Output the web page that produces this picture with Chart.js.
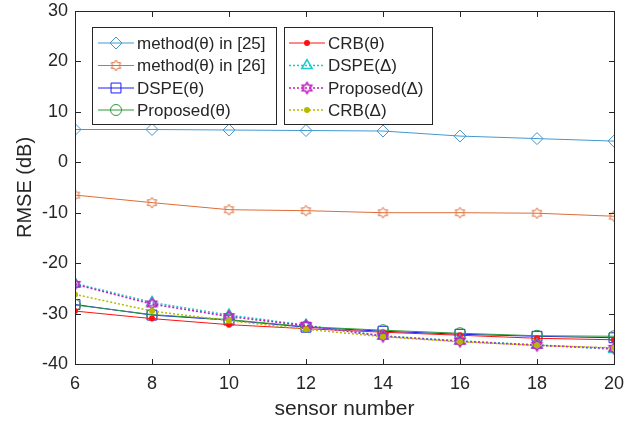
<!DOCTYPE html>
<html><head><meta charset="utf-8">
<script src="https://cdn.jsdelivr.net/npm/chart.js@4.4.1/dist/chart.umd.min.js"></script>
<style>html,body{margin:0;padding:0;background:#fff}#wrap{position:relative;width:639px;height:423px}</style>
</head><body><div id="wrap"><canvas id="c" width="639" height="423"></canvas></div>
<script>
// ---- data ----
const sensorNumbers = [6, 8, 10, 12, 14, 16, 18, 20];
const method25      = [6.5, 6.5, 6.4, 6.3, 6.2, 5.2, 4.7, 4.2];
const method26      = [-6.5, -8.0, -9.4, -9.6, -10.0, -10.0, -10.1, -10.7];
const dspeTheta     = [-28.2, -30.3, -31.3, -32.7, -33.5, -34.1, -34.5, -34.8];
const proposedTheta = [-28.3, -30.2, -31.2, -32.6, -33.3, -33.9, -34.4, -34.5];
const crbTheta      = [-29.5, -31.0, -32.2, -33.0, -33.7, -34.3, -34.9, -35.2];
const dspeDelta     = [-24.0, -27.8, -30.3, -32.3, -34.4, -35.4, -36.2, -37.1];
const proposedDelta = [-24.2, -28.1, -30.6, -32.4, -34.5, -35.5, -36.3, -36.9];
const crbDelta      = [-26.2, -29.5, -31.4, -33.1, -34.6, -35.6, -36.3, -36.8];
const yTicks = [-40, -30, -20, -10, 0, 10, 20, 30];
const xTicks = [6, 8, 10, 12, 14, 16, 18, 20];
const seriesNames = ['method(θ) in [25]', 'method(θ) in [26]', 'DSPE(θ)', 'Proposed(θ)',
                     'CRB(θ)', 'DSPE(Δ)', 'Proposed(Δ)', 'CRB(Δ)'];

const FONT = "'Liberation Sans', Arial, Helvetica, sans-serif";
const AX = '#262626';

function makeHexagram(color, R, lw) {
  const s = Math.ceil(2 * R + 4);
  const cv = document.createElement('canvas');
  cv.width = s; cv.height = s;
  const g = cv.getContext('2d');
  const c = s / 2, r = R / Math.sqrt(3);
  g.beginPath();
  for (let i = 0; i < 12; i++) {
    const a = -Math.PI / 2 + i * Math.PI / 6;
    const rr = i % 2 === 0 ? R : r;
    const px = c + rr * Math.cos(a), py = c + rr * Math.sin(a);
    if (i === 0) g.moveTo(px, py); else g.lineTo(px, py);
  }
  g.closePath();
  g.strokeStyle = color; g.lineWidth = lw; g.stroke();
  return cv;
}

const colors = ['#4398d0', '#de6c38', '#1a1aff', '#2e9a3a', '#ff1010', '#1ec8c8', '#c020c0', '#b8b800'];
const hexOrange = makeHexagram(colors[1], 5.5, 1);
const hexMag = makeHexagram(colors[6], 5.5, 1.6);

const pts = v => sensorNumbers.map((x, i) => ({x: x, y: v[i]}));
const specs = [
  {data: method25, style: 'rectRot', r: 6, fill: false, dash: [], lw: 1},
  {data: method26, style: hexOrange, r: 6, fill: false, dash: [], lw: 1},
  {data: dspeTheta, style: 'rect', r: 7, fill: false, dash: [], lw: 1},
  {data: proposedTheta, style: 'circle', r: 5.5, fill: false, dash: [], lw: 1},
  {data: crbTheta, style: 'circle', r: 3, fill: true, dash: [], lw: 1},
  {data: dspeDelta, style: 'triangle', r: 6, fill: false, dash: [2, 2], lw: 1.5},
  {data: proposedDelta, style: hexMag, r: 6, fill: false, dash: [2, 2], lw: 1.6},
  {data: crbDelta, style: 'circle', r: 3, fill: true, dash: [2, 2], lw: 1.5}
];

const datasets = specs.map((s, i) => ({
  label: seriesNames[i],
  data: pts(s.data),
  borderColor: colors[i],
  backgroundColor: s.fill ? colors[i] : 'rgba(0,0,0,0)',
  borderWidth: s.lw,
  borderDash: s.dash,
  pointStyle: s.style,
  pointRadius: s.r,
  pointBorderWidth: s.fill ? 0 : (i === 5 ? 1.5 : 1),
  pointBackgroundColor: s.fill ? colors[i] : 'rgba(0,0,0,0)',
  pointBorderColor: colors[i],
  tension: 0,
  order: 10 - i
}));

const boxPlugin = {
  id: 'box',
  afterDatasetsDraw(chart) {
    const {ctx, chartArea: a, scales} = chart;
    ctx.save();
    ctx.strokeStyle = AX; ctx.lineWidth = 1;
    const L = Math.round(a.left) + 0.5, R = Math.round(a.right) + 0.5;
    const T = Math.round(a.top) + 0.5, B = Math.round(a.bottom) + 0.5;
    ctx.strokeRect(L, T, R - L, B - T);
    const tl = 5.5;
    ctx.beginPath();
    scales.x.ticks.forEach(t => {
      const px = Math.round(scales.x.getPixelForValue(t.value)) + 0.5;
      ctx.moveTo(px, B); ctx.lineTo(px, B - tl);
      ctx.moveTo(px, T); ctx.lineTo(px, T + tl);
    });
    scales.y.ticks.forEach(t => {
      const py = Math.round(scales.y.getPixelForValue(t.value)) + 0.5;
      ctx.moveTo(L, py); ctx.lineTo(L + tl, py);
      ctx.moveTo(R, py); ctx.lineTo(R - tl, py);
    });
    ctx.stroke();
    ctx.restore();
  }
};

const legendPlugin = {
  id: 'mlegend',
  afterDraw(chart) {
    const {ctx} = chart;
    const boxes = [
      {x: 92, y: 27, w: 184, h: 97, items: [0, 1, 2, 3], lx0: 98, lx1: 134, tx: 137},
      {x: 284, y: 27, w: 148, h: 97, items: [4, 5, 6, 7], lx0: 289, lx1: 325, tx: 328}
    ];
    const rowY = [43, 65.5, 88, 110];
    ctx.save();
    boxes.forEach(b => {
      ctx.fillStyle = '#fff';
      ctx.fillRect(b.x, b.y, b.w, b.h);
      ctx.strokeStyle = AX; ctx.lineWidth = 1;
      ctx.strokeRect(b.x + 0.5, b.y + 0.5, b.w, b.h);
      b.items.forEach((di, k) => {
        const ds = chart.data.datasets[di];
        const y = rowY[k];
        ctx.save();
        ctx.strokeStyle = ds.borderColor;
        ctx.lineWidth = ds.borderWidth;
        ctx.setLineDash(ds.borderDash || []);
        ctx.beginPath(); ctx.moveTo(b.lx0, y); ctx.lineTo(b.lx1, y); ctx.stroke();
        ctx.setLineDash([]);
        ctx.fillStyle = ds.pointBackgroundColor;
        ctx.strokeStyle = ds.pointBorderColor;
        ctx.lineWidth = ds.pointBorderWidth;
        Chart.helpers.drawPoint(ctx, {pointStyle: ds.pointStyle, radius: ds.pointRadius,
          rotation: 0, borderWidth: ds.pointBorderWidth}, (b.lx0 + b.lx1) / 2, y);
        ctx.restore();
        ctx.fillStyle = AX;
        ctx.font = '17px ' + FONT;
        ctx.textBaseline = 'middle';
        ctx.textAlign = 'left';
        ctx.fillText(ds.label, b.tx, y + 1);
      });
    });
    ctx.restore();
  }
};

new Chart(document.getElementById('c'), {
  type: 'line',
  data: {datasets: datasets},
  options: {
    responsive: false,
    animation: false,
    devicePixelRatio: 1,
    layout: {padding: {top: 11, right: 25, left: 0, bottom: 0}},
    plugins: {legend: {display: false}, tooltip: {enabled: false}},
    scales: {
      x: {
        type: 'linear', min: 6, max: 20,
        afterBuildTicks: s => { s.ticks = xTicks.map(v => ({value: v})); },
        afterFit: s => { s.height = 59; s.paddingLeft = 0; s.paddingRight = 0; },
        grid: {display: false, drawTicks: false},
        border: {display: false},
        ticks: {color: AX, font: {family: FONT, size: 18}, padding: 9, maxRotation: 0},
        title: {display: true, text: 'sensor number', color: AX,
                font: {family: FONT, size: 21}, padding: {top: 0, bottom: 1}}
      },
      y: {
        type: 'linear', min: -40, max: 30,
        afterBuildTicks: s => { s.ticks = yTicks.map(v => ({value: v})); },
        afterFit: s => { s.width = 75; s.paddingTop = 0; s.paddingBottom = 0; },
        grid: {display: false, drawTicks: false},
        border: {display: false},
        ticks: {color: AX, font: {family: FONT, size: 18}, padding: 7},
        title: {display: true, text: 'RMSE (dB)', color: AX,
                font: {family: FONT, size: 20}, padding: {top: 13, bottom: 0}}
      }
    }
  },
  plugins: [boxPlugin, legendPlugin]
});
</script>
</body></html>
